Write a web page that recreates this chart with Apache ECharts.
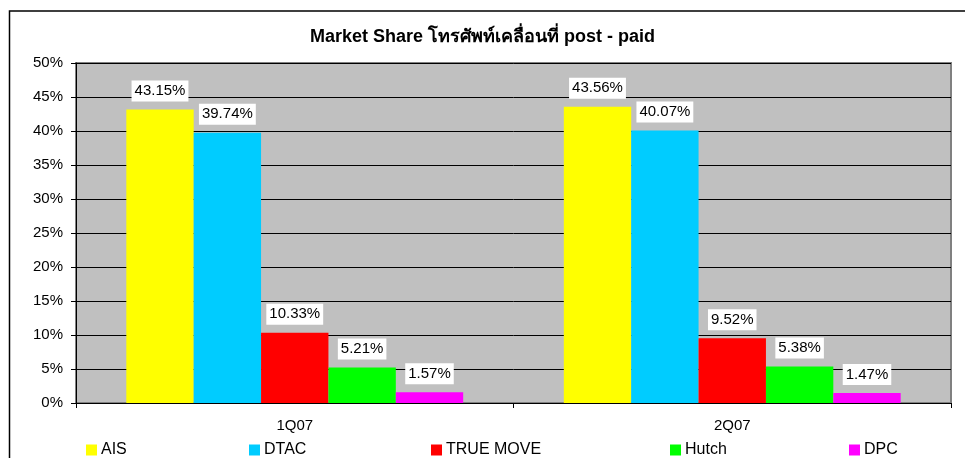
<!DOCTYPE html>
<html>
<head>
<meta charset="utf-8">
<script src="https://cdn.jsdelivr.net/npm/echarts@6/dist/echarts.min.js"></script>
<style>
html,body{margin:0;padding:0;background:#fff;}
#c{width:965px;height:458px;}
</style>
</head>
<body>
<div id="c"></div>
<script>
var categories = ['1Q07', '2Q07'];
var seriesNames = ['AIS', 'DTAC', 'TRUE MOVE', 'Hutch', 'DPC'];
var aisValues = [43.15, 43.56];
var dtacValues = [39.74, 40.07];
var trueMoveValues = [10.33, 9.52];
var hutchValues = [5.21, 5.38];
var dpcValues = [1.57, 1.47];
var yTicks = [0, 5, 10, 15, 20, 25, 30, 35, 40, 45, 50];
var titleText = 'Market Share โทรศัพท์เคลื่อนที่ post - paid';

var colors = ['#FFFF00', '#00CCFF', '#FF0000', '#00FF00', '#FF00FF'];
var seriesValues = [aisValues, dtacValues, trueMoveValues, hutchValues, dpcValues];
var legendLefts = [86, 249, 431, 670, 849];
var FONT = "'Liberation Sans', Arial, sans-serif";

var chart = echarts.init(document.getElementById('c'), null, {renderer: 'canvas'});

var series = seriesNames.map(function (name, i) {
  return {
    name: name,
    type: 'bar',
    data: seriesValues[i],
    itemStyle: {color: colors[i]},
    barGap: '0%',
    barCategoryGap: '23%',
    label: {
      show: true,
      position: 'top',
      distance: 8,
      formatter: function (p) { return p.value.toFixed(2) + '%'; },
      color: '#000',
      fontSize: 15,
      fontFamily: FONT,
      backgroundColor: '#fff',
      padding: [3, 3, 3, 3]
    }
  };
});

var legends = seriesNames.map(function (name, i) {
  return {
    data: [name],
    left: legendLefts[i],
    top: 442,
    icon: 'rect',
    itemWidth: 11,
    itemHeight: 11,
    padding: 0,
    textStyle: {fontSize: 16, color: '#000', fontFamily: FONT, padding: [0, 0, 0, -1]},
    selectedMode: false
  };
});

chart.setOption({
  backgroundColor: '#fff',
  animation: false,
  title: {
    text: titleText,
    left: 'center',
    top: 28,
    padding: [0, 0, 0, 13],
    textStyle: {fontSize: 18, fontWeight: 'bold', color: '#000', fontFamily: FONT}
  },
  legend: legends,
  grid: {
    left: 76, top: 63, width: 875, height: 340,
    show: true,
    backgroundColor: '#C0C0C0',
    borderColor: '#808080',
    borderWidth: 2
  },
  xAxis: {
    type: 'category',
    data: categories,
    axisLine: {lineStyle: {color: '#000', width: 1}},
    axisTick: {show: true, length: 5, lineStyle: {color: '#000'}},
    axisLabel: {margin: 15, fontSize: 15, color: '#000', fontFamily: FONT}
  },
  yAxis: {
    type: 'value',
    min: yTicks[0],
    max: yTicks[yTicks.length - 1],
    interval: yTicks[1] - yTicks[0],
    axisLine: {show: true, lineStyle: {color: '#000', width: 1}},
    axisTick: {show: true, length: 5, lineStyle: {color: '#000'}},
    axisLabel: {margin: 13, fontSize: 15, color: '#000', fontFamily: FONT, formatter: '{value}%'},
    splitLine: {show: true, lineStyle: {color: '#000', width: 1}}
  },
  graphic: [{
    type: 'rect',
    shape: {x: 9.5, y: 11, width: 1000, height: 500},
    style: {fill: 'none', stroke: '#000', lineWidth: 1.5},
    silent: true,
    z: 100
  }],
  series: series
});
</script>
</body>
</html>
